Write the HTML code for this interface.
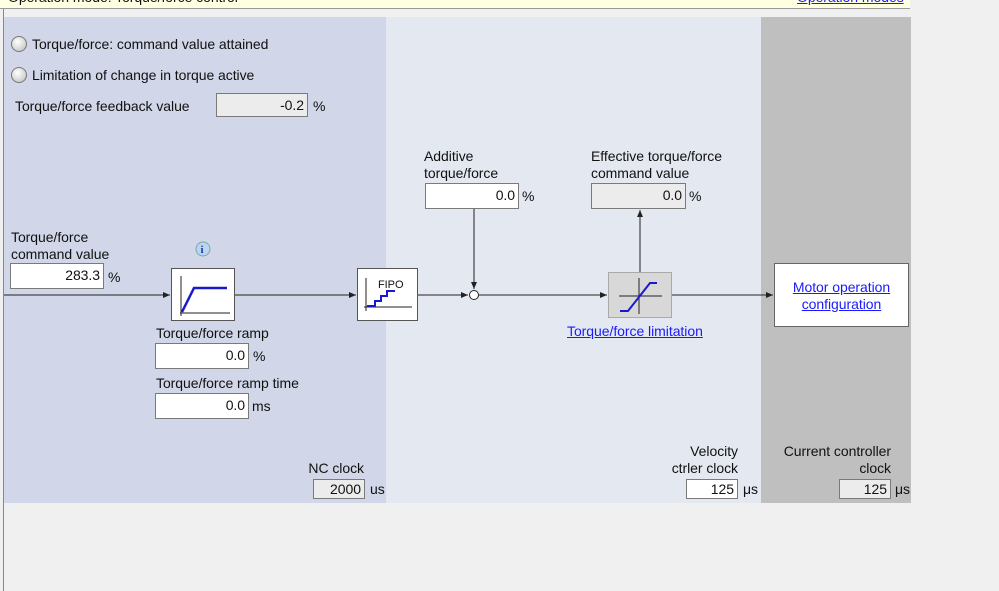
<!DOCTYPE html>
<html><head><meta charset="utf-8"><style>
body{margin:0;width:999px;height:591px;background:#f0f0f0;position:relative;overflow:hidden;font-family:"Liberation Sans",sans-serif;font-size:14px;color:#111;letter-spacing:-0.05px}
div,span{position:absolute}
.t{white-space:nowrap;line-height:17px}
.in{background:#fff;border:1px solid #7a7a7a;text-align:right;box-sizing:border-box;padding-right:3px;line-height:22px}
.g{background:#ececec}
a{color:#1a1aff;text-decoration:underline}
.rb{width:14px;height:14px;border-radius:50%;border:1px solid #777;background:radial-gradient(circle at 40% 35%,#fff,#bbb)}
</style></head><body>
<div style="left:0;top:0;width:910px;height:8px;background:#ffffe1;border-bottom:1px solid #999"></div>
<span class="t" style="left:8px;top:-11px">Operation mode: Torque/force control</span>
<span class="t" style="left:797px;top:-11px"><a>Operation modes</a></span>
<div style="left:3px;top:9px;width:1px;height:582px;background:#888"></div>
<div style="left:4px;top:17px;width:382px;height:486px;background:#d1d7e8"></div>
<div style="left:386px;top:17px;width:375px;height:486px;background:#e4e8f1"></div>
<div style="left:761px;top:17px;width:150px;height:486px;background:#bfbfbf"></div>

<div class="rb" style="left:11px;top:36px"></div><span class="t" style="left:32px;top:36px">Torque/force: command value attained</span>
<div class="rb" style="left:11px;top:67px"></div><span class="t" style="left:32px;top:67px">Limitation of change in torque active</span>
<span class="t" style="left:15px;top:98px">Torque/force feedback value</span>
<div class="in g" style="left:216px;top:93px;width:92px;height:24px">-0.2</div><span class="t" style="left:313px;top:98px">%</span>

<span class="t" style="left:424px;top:148px">Additive<br>torque/force</span>
<div class="in" style="left:425px;top:183px;width:94px;height:26px">0.0</div><span class="t" style="left:522px;top:188px">%</span>
<span class="t" style="left:591px;top:148px">Effective torque/force<br>command value</span>
<div class="in g" style="left:591px;top:183px;width:95px;height:26px">0.0</div><span class="t" style="left:689px;top:188px">%</span>

<span class="t" style="left:11px;top:229px">Torque/force<br>command value</span>
<div class="in" style="left:10px;top:263px;width:94px;height:26px">283.3</div><span class="t" style="left:108px;top:269px">%</span>

<svg style="position:absolute;left:0;top:0" width="999" height="591">
<defs><marker id="a" markerWidth="8" markerHeight="8" refX="7" refY="4" orient="auto"><path d="M0,1L7,4L0,7z" fill="#222"/></marker></defs>
<g stroke="#222" stroke-width="1" fill="none">
<line x1="4" y1="295" x2="170" y2="295" marker-end="url(#a)"/>
<line x1="234" y1="295" x2="356" y2="295" marker-end="url(#a)"/>
<line x1="417" y1="295" x2="468" y2="295" marker-end="url(#a)"/>
<line x1="474" y1="209" x2="474" y2="289" marker-end="url(#a)"/>
<line x1="479" y1="295" x2="607" y2="295" marker-end="url(#a)"/>
<line x1="640" y1="272" x2="640" y2="210" marker-end="url(#a)"/>
<line x1="672" y1="295" x2="773" y2="295" marker-end="url(#a)"/>
<circle cx="474" cy="295" r="4.5" fill="#fff"/>
</g>
<rect x="171.5" y="268.5" width="63" height="52" fill="#fff" stroke="#555"/>
<g stroke="#222"><line x1="180" y1="313" x2="230" y2="313"/><line x1="181" y1="276" x2="181" y2="316"/></g>
<polyline points="182,312 194,288 227,288" stroke="#1a1acc" stroke-width="2.5" fill="none"/>
<rect x="357.5" y="268.5" width="60" height="52" fill="#fff" stroke="#555"/>
<g stroke="#222"><line x1="364" y1="307" x2="412" y2="307"/><line x1="366" y1="278" x2="366" y2="311"/></g>
<polyline points="367,306 375,306 375,301 381,301 381,296 387,296 387,291 395,291" stroke="#1a1acc" stroke-width="2" fill="none"/>
<text x="378" y="288" font-family="Liberation Sans" font-size="11" fill="#111">FIPO</text>
<rect x="608.5" y="272.5" width="63" height="45" fill="#d8d8d8" stroke="#aaa"/>
<g stroke="#222"><line x1="619" y1="296" x2="662" y2="296"/><line x1="639" y1="278" x2="639" y2="314"/></g>
<polyline points="620,311 628,311 650,283 657,283" stroke="#1a1acc" stroke-width="2" fill="none"/>
<circle cx="203" cy="249" r="7" fill="#bcd4f0" stroke="#7aa"/>
<text x="200.5" y="253" font-family="Liberation Serif" font-size="11" font-weight="bold" fill="#1a3ab0">i</text>
</svg>

<div style="left:774px;top:263px;width:135px;height:64px;background:#fff;border:1px solid #666;box-sizing:border-box"></div>
<span class="t" style="left:774px;top:279px;width:135px;text-align:center"><a>Motor operation<br>configuration</a></span>
<span class="t" style="left:567px;top:323px"><a>Torque/force limitation</a></span>

<span class="t" style="left:156px;top:325px">Torque/force ramp</span>
<div class="in" style="left:155px;top:343px;width:94px;height:26px">0.0</div><span class="t" style="left:253px;top:348px">%</span>
<span class="t" style="left:156px;top:375px">Torque/force ramp time</span>
<div class="in" style="left:155px;top:393px;width:94px;height:26px">0.0</div><span class="t" style="left:252px;top:398px">ms</span>

<span class="t" style="left:250px;top:460px;width:114px;text-align:right">NC clock</span>
<div class="in g" style="left:313px;top:479px;width:52px;height:20px;line-height:18px">2000</div><span class="t" style="left:370px;top:481px">us</span>
<span class="t" style="left:620px;top:443px;width:118px;text-align:right">Velocity<br>ctrler clock</span>
<div class="in" style="left:686px;top:479px;width:52px;height:20px;line-height:18px">125</div><span class="t" style="left:743px;top:481px">μs</span>
<span class="t" style="left:770px;top:443px;width:121px;text-align:right">Current controller<br>clock</span>
<div class="in g" style="left:839px;top:479px;width:52px;height:20px;line-height:18px">125</div><span class="t" style="left:895px;top:481px">μs</span>
</body></html>
